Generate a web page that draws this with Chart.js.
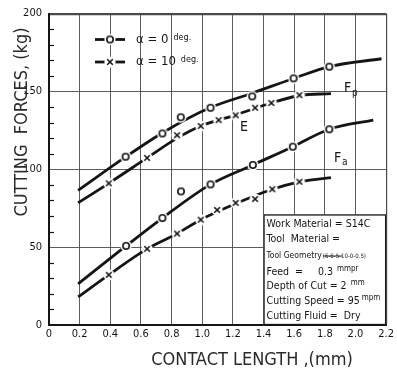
<!DOCTYPE html>
<html>
<head>
<meta charset="utf-8">
<script src="https://cdn.jsdelivr.net/npm/chart.js@4.4.0/dist/chart.umd.min.js"></script>
<style>
  html, body { margin: 0; padding: 0; background: #fff; }
  #wrap { width: 397px; height: 374px; }
</style>
</head>
<body>
<div id="wrap"><canvas id="chart"></canvas></div>
<script>
// Cutting forces vs contact length
// [contact length (mm), force (kg)]

// Fp, alpha = 0 deg
const fp0Curve = [[0.19, 86.5], [0.5, 108], [0.75, 124], [1.05, 139.5], [1.33, 149], [1.6, 158.5], [1.83, 166], [2.17, 171]];
const fp0Points = [[0.5, 108.1], [0.74, 123], [0.86, 133.4], [1.054, 139.5], [1.326, 146.8], [1.596, 158.4], [1.829, 165.9]];

// Fp, alpha = 10 deg
const fp10Curve = [[0.19, 78.5], [0.39, 91], [0.64, 107.3], [0.836, 120], [0.99, 127.8], [1.22, 135], [1.45, 142.6], [1.634, 147.4], [1.84, 148.6]];
const fp10Points = [[0.39, 91], [0.64, 107.3], [0.836, 121.9], [0.99, 127.8], [1.107, 131.6], [1.218, 134.7], [1.345, 139.5], [1.451, 142.6], [1.634, 147.6]];

// Fa, alpha = 0 deg
const fa0Curve = [[0.19, 26.4], [0.503, 50.8], [0.74, 68.7], [1.054, 90.3], [1.33, 102.8], [1.591, 114.5], [1.829, 125.7], [2.116, 131.6]];
const fa0Points = [[0.503, 50.8], [0.74, 68.7], [0.861, 85.8], [1.054, 90.3], [1.33, 102.8], [1.591, 114.5], [1.829, 125.7]];

// Fa, alpha = 10 deg
const fa10Curve = [[0.19, 18], [0.39, 32.2], [0.64, 48.9], [0.836, 58.7], [0.99, 67.6], [1.22, 78], [1.457, 87.2], [1.634, 92], [1.84, 94.7]];
const fa10Points = [[0.39, 32.2], [0.64, 48.9], [0.836, 58.7], [0.99, 67.6], [1.097, 73.9], [1.218, 78.4], [1.345, 80.9], [1.457, 87.2], [1.634, 92]];

const xTickLabels = ['0', '0.2', '0.4', '0.6', '0.8', '1.0', '1.2', '1.4', '1.6', '1.8', '2.0', '2.2'];
const yTickLabels = ['0', '50', '100', '150', '200'];

const infoLines = [
    'Work Material = S14C',
    'Tool  Material =',
    'Tool Geometry',
    'Feed  =     0.3',
    'Depth of Cut = 2',
    'Cutting Speed = 95',
    'Cutting Fluid =  Dry'
];

const INK = '#151515';
const FONT = '"DejaVu Sans Condensed", "DejaVu Sans", sans-serif';

const toXY = arr => arr.map(p => ({ x: p[0], y: p[1] }));

// marker with a white halo so the curve looks broken round it ( -o- )
function makeMarker(kind) {
    const c = document.createElement('canvas');
    c.width = 14; c.height = 14;
    const g = c.getContext('2d');
    g.fillStyle = '#fff';
    g.beginPath(); g.arc(7, 7, 5.6, 0, Math.PI * 2); g.fill();
    g.strokeStyle = INK;
    g.lineWidth = 1.6;
    g.beginPath();
    if (kind === 'o') {
        g.arc(7, 7, 3.2, 0, Math.PI * 2);
    } else {
        g.moveTo(4.2, 4.2); g.lineTo(9.8, 9.8);
        g.moveTo(9.8, 4.2); g.lineTo(4.2, 9.8);
    }
    g.stroke();
    return c;
}
const circleMark = makeMarker('o');
const crossMark = makeMarker('x');

function curve(data) {
    return {
        type: 'line', data: toXY(data), order: 2,
        borderColor: INK, borderWidth: 2.8, pointRadius: 0,
        cubicInterpolationMode: 'monotone', fill: false
    };
}
function marks(data, img) {
    return {
        type: 'scatter', data: toXY(data), order: 1,
        pointStyle: img, pointRadius: 5
    };
}

const decor = {
    id: 'decor',
    beforeDraw(chart) {
        const ctx = chart.ctx;
        ctx.save();
        ctx.fillStyle = '#fff';
        ctx.fillRect(0, 0, chart.width, chart.height);
        ctx.restore();
    },
    afterDraw(chart) {
        const ctx = chart.ctx;
        const xs = chart.scales.x, ys = chart.scales.y;
        const area = chart.chartArea;
        ctx.save();
        ctx.strokeStyle = INK;
        ctx.fillStyle = INK;

        // minor ticks every 10 kg, inside the frame
        ctx.lineWidth = 1.2;
        for (let v = 10; v < 200; v += 10) {
            if (v % 50 === 0) continue;
            const py = Math.round(ys.getPixelForValue(v)) + 0.5;
            ctx.beginPath();
            ctx.moveTo(area.left, py);
            ctx.lineTo(area.left + 5, py);
            ctx.stroke();
        }

        // axis titles
        ctx.textBaseline = 'middle';
        ctx.textAlign = 'center';
        ctx.fillStyle = '#2a2a2a';
        ctx.font = '18px ' + FONT;
        ctx.fillText('CONTACT LENGTH ,(mm)', 252, 360, 217);
        ctx.save();
        ctx.translate(22, 122);
        ctx.rotate(-Math.PI / 2);
        ctx.fillText('CUTTING  FORCES, (kg)', 0, 0, 217);
        ctx.restore();
        ctx.fillStyle = INK;

        // legend
        const legend = [[39.5, circleMark, 'α = 0', 'deg.'], [62, crossMark, 'α = 10', 'deg.']];
        legend.forEach(([ly, img, a, d]) => {
            ctx.lineWidth = 2.8;
            ctx.beginPath();
            ctx.moveTo(95, ly); ctx.lineTo(125, ly);
            ctx.stroke();
            ctx.drawImage(img, 110 - 7, ly - 7);
            ctx.textAlign = 'left';
            ctx.font = '13px ' + FONT;
            ctx.fillText(a, 136, ly);
            const w = ctx.measureText(a).width;
            ctx.font = '9px ' + FONT;
            ctx.fillText(d, 136 + w + 5, ly - 2);
        });

        // curve labels
        ctx.textAlign = 'left';
        ctx.font = '14px ' + FONT;
        ctx.fillText('F', 344, 88);
        ctx.fillText('F', 334, 158);
        ctx.fillText('E', 240, 127);
        ctx.font = '10px ' + FONT;
        ctx.fillText('p', 352, 93);
        ctx.fillText('a', 342, 162);

        // info box, sits on the x axis between 1.4 and 2.2 mm
        const bx = xs.getPixelForValue(1.4), bx2 = xs.getPixelForValue(2.2);
        const by = ys.getPixelForValue(71), by2 = ys.getPixelForValue(0);
        ctx.fillStyle = '#fff';
        ctx.fillRect(bx, by, bx2 - bx, by2 - by);
        ctx.lineWidth = 1.3;
        ctx.strokeRect(bx + 0.5, by + 0.5, bx2 - bx - 1, by2 - by - 1);
        ctx.fillStyle = INK;
        const tx = bx + 3;
        const rows = [224, 239, 256, 272, 286, 301, 316];
        infoLines.forEach((t, i) => {
            ctx.font = (i === 2 ? '8.5px ' : '10.5px ') + FONT;
            ctx.fillText(t, tx, rows[i], 112);
        });
        // struck-through geometry spec
        ctx.font = '8.5px ' + FONT;
        const gx = tx + ctx.measureText('Tool Geometry').width + 1;
        ctx.font = '6px ' + FONT;
        const spec = '(6-6-5-10-0-0.5)';
        ctx.fillText(spec, gx, rows[2]);
        const sw = ctx.measureText(spec).width;
        ctx.lineWidth = 0.9;
        ctx.beginPath();
        ctx.moveTo(gx, rows[2]); ctx.lineTo(gx + sw * 0.45, rows[2]);
        ctx.stroke();
        // unit superscripts
        ctx.font = '10.5px ' + FONT;
        const u1 = tx + ctx.measureText(infoLines[3]).width + 4;
        const u2 = tx + ctx.measureText(infoLines[4]).width + 4;
        const u3 = tx + ctx.measureText(infoLines[5]).width + 2;
        ctx.font = '8px ' + FONT;
        ctx.fillText('mmpr', u1, rows[3] - 3);
        ctx.fillText('mm', u2, rows[4] - 3);
        ctx.fillText('mpm', u3, rows[5] - 3);

        ctx.restore();
    }
};

new Chart(document.getElementById('chart'), {
    type: 'line',
    data: {
        datasets: [
            curve(fp0Curve), curve(fp10Curve), curve(fa0Curve), curve(fa10Curve),
            marks(fp0Points, circleMark), marks(fp10Points, crossMark),
            marks(fa0Points, circleMark), marks(fa10Points, crossMark)
        ]
    },
    options: {
        responsive: true,
        maintainAspectRatio: false,
        animation: false,
        layout: { padding: { top: 6, right: 3, left: 0, bottom: 0 } },
        plugins: {
            legend: { display: false },
            tooltip: { enabled: false }
        },
        scales: {
            x: {
                type: 'linear', min: 0, max: 2.2,
                afterFit: s => { s.height = 49; },
                border: { color: INK, width: 2 },
                grid: {
                    color: '#4a4a4a',
                    lineWidth: c => (c.index === xTickLabels.length - 1 ? 1.2 : 0.9),
                    drawTicks: false
                },
                ticks: {
                    stepSize: 0.2, padding: 3, color: INK,
                    font: { family: FONT, size: 11 },
                    callback: (v, i) => xTickLabels[i]
                }
            },
            y: {
                min: 0, max: 200,
                afterFit: s => { s.width = 49; },
                border: { color: INK, width: 2 },
                grid: {
                    color: '#4a4a4a',
                    lineWidth: c => (c.index === yTickLabels.length - 1 ? 2.2 : 0.9),
                    drawTicks: false
                },
                ticks: {
                    stepSize: 50, padding: 7, color: INK,
                    font: { family: FONT, size: 11 },
                    callback: (v, i) => yTickLabels[i]
                }
            }
        }
    },
    plugins: [decor]
});
</script>
</body>
</html>
